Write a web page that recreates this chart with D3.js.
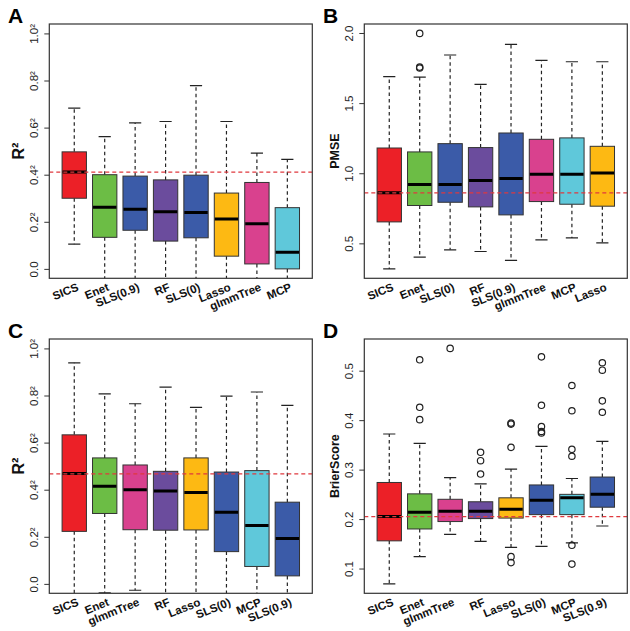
<!DOCTYPE html>
<html><head><meta charset="utf-8">
<script src="https://cdn.jsdelivr.net/npm/d3@7"></script>
<style>
html,body{margin:0;padding:0;background:#fff;}
svg{display:block;font-family:"Liberation Sans",Arial,sans-serif;}
</style></head>
<body>
<svg id="chart" width="630" height="631"></svg>
<script>
// ---------- DATA ----------
// Panel A (R², dataset 1)
const catsA = ["SICS","Enet","SLS(0.9)","RF","SLS(0)","Lasso","glmmTree","MCP"];
const hiA  = [0.683,0.562,0.620,0.626,0.778,0.626,0.492,0.465];
const q3A  = [0.497,0.400,0.394,0.378,0.398,0.322,0.367,0.260];
const medA = [0.411,0.262,0.253,0.243,0.239,0.212,0.192,0.071];
const q1A  = [0.300,0.134,0.164,0.118,0.132,0.054,0.021,0.000];
const loA  = [0.105,-0.10,-0.10,-0.10,-0.10,-0.10,-0.10,-0.10];
const outA = [[],[],[],[],[],[],[],[]];
const refA = 0.411;

// Panel B (PMSE)
const catsB = ["SICS","Enet","SLS(0)","RF","SLS(0.9)","glmmTree","MCP","Lasso"];
const hiB  = [1.689,1.686,1.843,1.634,1.919,1.805,1.795,1.795];
const q3B  = [1.180,1.152,1.211,1.183,1.287,1.242,1.252,1.192];
const medB = [0.860,0.919,0.919,0.948,0.962,0.993,0.993,1.002];
const q1B  = [0.653,0.770,0.793,0.760,0.703,0.798,0.779,0.765];
const loB  = [0.318,0.402,0.454,0.442,0.378,0.525,0.539,0.504];
const outB = [[],[1.997,1.757,1.750],[],[],[],[],[],[]];
const refB = 0.860;

// Panel C (R², dataset 2)
const catsC = ["SICS","Enet","glmmTree","RF","Lasso","SLS(0)","MCP","SLS(0.9)"];
const hiC  = [0.939,0.807,0.765,0.836,0.750,0.797,0.815,0.758];
const q3C  = [0.633,0.535,0.505,0.478,0.535,0.475,0.481,0.347];
const medC = [0.469,0.415,0.400,0.394,0.388,0.304,0.248,0.193];
const q1C  = [0.223,0.299,0.230,0.228,0.229,0.137,0.074,0.034];
const loC  = [-0.10,-0.038,-0.027,-0.10,-0.10,-0.10,-0.10,-0.10];
const outC = [[],[],[],[],[],[],[],[]];
const refC = 0.467;

// Panel D (Brier score)
const catsD = ["SICS","Enet","glmmTree","RF","Lasso","SLS(0)","MCP","SLS(0.9)"];
const hiD  = [0.372,0.353,0.284,0.271,0.301,0.347,0.282,0.357];
const q3D  = [0.274,0.251,0.240,0.235,0.243,0.269,0.250,0.285];
const medD = [0.205,0.214,0.216,0.216,0.220,0.238,0.243,0.250];
const q1D  = [0.156,0.180,0.195,0.201,0.202,0.209,0.209,0.224];
const loD  = [0.069,0.124,0.169,0.155,0.143,0.145,0.152,0.186];
const outD = [[],[0.522,0.426,0.401],[0.545],[0.335,0.318,0.291],
              [0.394,0.392,0.345,0.124,0.112],[0.528,0.430,0.387,0.377,0.374],
              [0.470,0.419,0.341,0.327,0.147,0.109],[0.516,0.501,0.439,0.416]];
const refD = 0.205;

// Tick values / labels
const ticksR2  = [0,0.2,0.4,0.6,0.8,1.0];
const labsR2   = ["0.0","0.2²","0.4²","0.6²","0.8²","1.0²"];
const ticksPM  = [0.5,1.0,1.5,2.0];
const labsPM   = ["0.5","1.0","1.5","2.0"];
const ticksBS  = [0.1,0.2,0.3,0.4,0.5];
const labsBS   = ["0.1","0.2","0.3","0.4","0.5"];

// ---------- STYLE ----------
const methodColor = {
  "SICS":"#EC2027","Enet":"#6CBD45","SLS(0.9)":"#3B5BA8","SLS(0)":"#3B5BA8",
  "RF":"#6B4C9D","Lasso":"#FDB913","glmmTree":"#D9418E","MCP":"#5FC8DA"
};

const svg = d3.select("#chart");

const panels = [
  {letter:"A", ox:0,   oy:0,   cats:catsA, hi:hiA,q3:q3A,med:medA,q1:q1A,lo:loA,out:outA, ref:refA,
   lim:[0,1], ticks:ticksR2, labs:labsR2, title:"R²", tsize:16},
  {letter:"B", ox:315, oy:0,   cats:catsB, hi:hiB,q3:q3B,med:medB,q1:q1B,lo:loB,out:outB, ref:refB,
   lim:null, ticks:ticksPM, labs:labsPM, title:"PMSE", tsize:12.5},
  {letter:"C", ox:0,   oy:315, cats:catsC, hi:hiC,q3:q3C,med:medC,q1:q1C,lo:loC,out:outC, ref:refC,
   lim:[0,1], ticks:ticksR2, labs:labsR2, title:"R²", tsize:16},
  {letter:"D", ox:315, oy:315, cats:catsD, hi:hiD,q3:q3D,med:medD,q1:q1D,lo:loD,out:outD, ref:refD,
   lim:null, ticks:ticksBS, labs:labsBS, title:"BrierScore", tsize:12.5}
];

const L = 49.3, R = 312.3, T = 24, B = 278.3;

panels.forEach((p, pi) => {
  const g = svg.append("g").attr("transform", `translate(${p.ox},${p.oy})`);
  const n = p.cats.length;
  // R-style 4% extension
  const xs = d3.scaleLinear().domain([0.5 - 0.04*n, n + 0.5 + 0.04*n]).range([L, R]);
  let lim = p.lim;
  if (!lim) {
    const all = p.lo.concat(p.hi, ...p.out);
    lim = d3.extent(all);
  }
  const pad = (lim[1]-lim[0])*0.04;
  const ys = d3.scaleLinear().domain([lim[0]-pad, lim[1]+pad]).range([B, T]);

  const clipId = "clip"+pi;
  g.append("clipPath").attr("id", clipId).append("rect")
    .attr("x", L).attr("y", T).attr("width", R-L).attr("height", B-T);
  const plot = g.append("g").attr("clip-path", `url(#${clipId})`);

  const bw = 0.8 * (xs(1)-xs(0));
  const idx = d3.range(n);

  // whiskers
  plot.selectAll(".wu").data(idx).join("line")
    .attr("x1", i=>xs(i+1)).attr("x2", i=>xs(i+1))
    .attr("y1", i=>ys(p.q3[i])).attr("y2", i=>ys(p.hi[i]))
    .attr("stroke","#222").attr("stroke-width",1.2).attr("stroke-dasharray","3.5,3");
  plot.selectAll(".wl").data(idx).join("line")
    .attr("x1", i=>xs(i+1)).attr("x2", i=>xs(i+1))
    .attr("y1", i=>ys(p.q1[i])).attr("y2", i=>ys(p.lo[i]))
    .attr("stroke","#222").attr("stroke-width",1.2).attr("stroke-dasharray","3.5,3");
  // staples
  [p.hi, p.lo].forEach(arr => {
    plot.selectAll(null).data(idx).join("line")
      .attr("x1", i=>xs(i+1)-bw/4).attr("x2", i=>xs(i+1)+bw/4)
      .attr("y1", i=>ys(arr[i])).attr("y2", i=>ys(arr[i]))
      .attr("stroke","#222").attr("stroke-width",1.2);
  });
  // boxes
  plot.selectAll(".box").data(idx).join("rect")
    .attr("x", i=>xs(i+1)-bw/2).attr("width", bw)
    .attr("y", i=>ys(p.q3[i])).attr("height", i=>ys(p.q1[i])-ys(p.q3[i]))
    .attr("fill", i=>methodColor[p.cats[i]])
    .attr("stroke","#333").attr("stroke-width",1);
  // medians
  plot.selectAll(".med").data(idx).join("line")
    .attr("x1", i=>xs(i+1)-bw/2+0.5).attr("x2", i=>xs(i+1)+bw/2-0.5)
    .attr("y1", i=>ys(p.med[i])).attr("y2", i=>ys(p.med[i]))
    .attr("stroke","#000").attr("stroke-width",3);
  // outliers
  const pts = [];
  p.out.forEach((arr,i)=>arr.forEach(v=>pts.push({i, v})));
  plot.selectAll(".out").data(pts).join("circle")
    .attr("cx", d=>xs(d.i+1)).attr("cy", d=>ys(d.v)).attr("r", 3.2)
    .attr("fill","none").attr("stroke","#222").attr("stroke-width",1.2);
  // reference line
  plot.append("line")
    .attr("x1", L).attr("x2", R).attr("y1", ys(p.ref)).attr("y2", ys(p.ref))
    .attr("stroke","#E0393E").attr("stroke-width",1.3).attr("stroke-dasharray","4,3");

  // frame
  g.append("rect").attr("x", L).attr("y", T).attr("width", R-L).attr("height", B-T)
    .attr("fill","none").attr("stroke","#333").attr("stroke-width",1.2);

  // y axis
  const yAxis = d3.axisLeft(ys).tickValues(p.ticks).tickSize(5).tickPadding(0)
    .tickFormat((d,i)=>p.labs[i]);
  const ag = g.append("g").attr("transform", `translate(${L},0)`).call(yAxis);
  ag.select(".domain").remove();
  ag.selectAll(".tick line").attr("stroke","#333").attr("stroke-width",1);
  ag.selectAll(".tick text")
    .attr("transform", "rotate(-90)")
    .attr("x", 0).attr("y", -11)
    .attr("dy", 0)
    .attr("text-anchor","middle")
    .attr("font-size", 11.5).attr("fill","#222");

  // axis title
  g.append("text")
    .attr("transform", `translate(24,${(T+B)/2}) rotate(-90)`)
    .attr("text-anchor","middle")
    .attr("font-weight","bold").attr("font-size", p.tsize).attr("fill","#111")
    .text(p.title);

  // x labels
  g.selectAll(".xl").data(idx).join("text")
    .attr("transform", i=>`translate(${xs(i+1)+4},${B+9}) rotate(-22)`)
    .attr("text-anchor","end").attr("dominant-baseline","middle")
    .attr("font-weight","bold").attr("font-size", 11.5).attr("fill","#111")
    .text(i=>p.cats[i]);

  // panel letter
  g.append("text").attr("x", 8).attr("y", 23)
    .attr("font-weight","bold").attr("font-size", 21).attr("fill","#000")
    .text(p.letter);
});
</script>
</body></html>
